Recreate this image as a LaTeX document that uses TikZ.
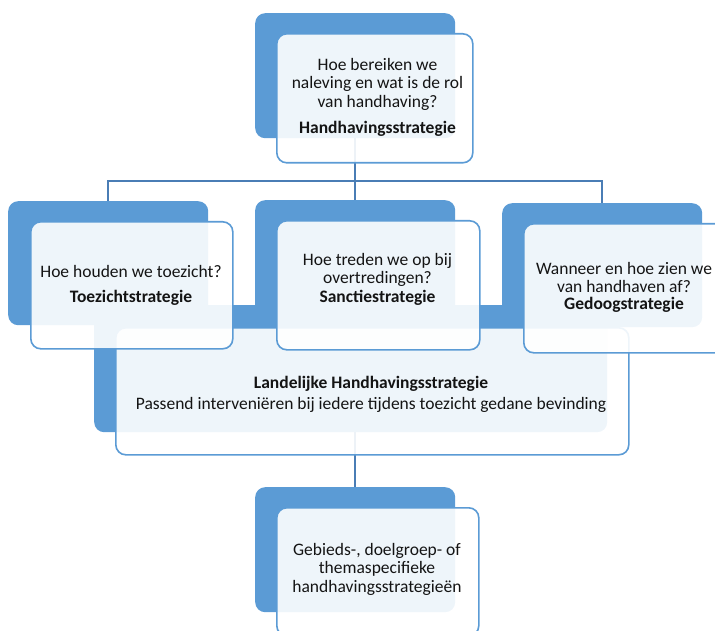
\documentclass[tikz,border=0pt]{standalone}
\usepackage{fontspec}
\setmainfont{Carlito}
\definecolor{backblue}{HTML}{5B9BD5}
\definecolor{edgeblue}{HTML}{5B9BD5}
\definecolor{lineblue}{HTML}{4A7DB5}
\definecolor{txtcol}{HTML}{141414}
\begin{document}
\begin{tikzpicture}[x=1pt,y=-1pt,
  backbox/.style={fill=backblue,draw=none,rounded corners=10pt,anchor=north west,
    minimum width=200pt,minimum height=125pt,inner sep=0pt},
  frontbox/.style={fill=white,fill opacity=0.9,draw=edgeblue,line width=1.6pt,
    rounded corners=10pt,anchor=north west,minimum width=202pt,minimum height=128pt,inner sep=0pt},
  conn/.style={draw=lineblue,line width=1.8pt},
  txt/.style={align=center,text=txtcol,inner sep=0pt,
    font=\fontsize{17.5}{18.5}\selectfont}]
\useasboundingbox (0,0) rectangle (715,631);
\clip (0,0) rectangle (715,631);
% back shapes of top, national and bottom boxes
\node[backbox] (b1) at (255,13) {};
\node[backbox,minimum width=513pt,minimum height=127pt] (b5) at (94,305) {};
\node[backbox] (b6) at (255,487) {};
\draw[conn] (b6.north |- b5.south) -- (b6.north);
\node[frontbox,minimum width=513pt,minimum height=127pt] (f5) at (115,327) {};
% back shapes of the three children
\node[backbox,minimum height=124pt] (b2) at (8,201) {};
\node[backbox] (b3) at (255,200) {};
\node[backbox,minimum height=124pt] (b4) at (502,203) {};
\coordinate (bar) at (355,181);
\draw[conn] (b1.south) -- (b1.south |- bar) -| (b2.north);
\draw[conn] (b1.south) -- (b1.south |- bar) -| (b3.north);
\draw[conn] (b1.south) -- (b1.south |- bar) -| (b4.north);
% front shapes
\node[frontbox,minimum width=196pt,minimum height=129pt] (f1) at (276,33) {};
\node[frontbox,minimum height=127pt] (f2) at (30,221) {};
\node[frontbox,minimum width=203pt,minimum height=129pt] (f3) at (276,220) {};
\node[frontbox,minimum height=129pt] (f4) at (523,223) {};
\node[frontbox] (f6) at (276,507) {};
% texts
\node[txt] (t1) at (377.5,97) {Hoe bereiken we\\naleving en wat is de rol\\van handhaving?\\[7.5pt]\textbf{Handhavingsstrategie}};
\node[txt] (t2) at (131,285) {Hoe houden we toezicht?\\[6.5pt]\textbf{Toezichtstrategie}};
\node[txt] (t3) at (377.5,279) {Hoe treden we op bij\\overtredingen?\\\textbf{Sanctiestrategie}};
\node[txt] (t4) at (624,287.5) {Wanneer en hoe zien we\\[-1pt]van handhaven af?\\[-1pt]\textbf{Gedoogstrategie}};
\node[txt] (t5) at (371,394) {\textbf{Landelijke Handhavingsstrategie}\\[2.5pt]Passend interveniëren bij iedere tijdens toezicht gedane bevinding};
\node[txt] (t6) at (377,569) {Gebieds-, doelgroep- of\\themaspecifieke\\handhavingsstrategieën};
\end{tikzpicture}
\end{document}
